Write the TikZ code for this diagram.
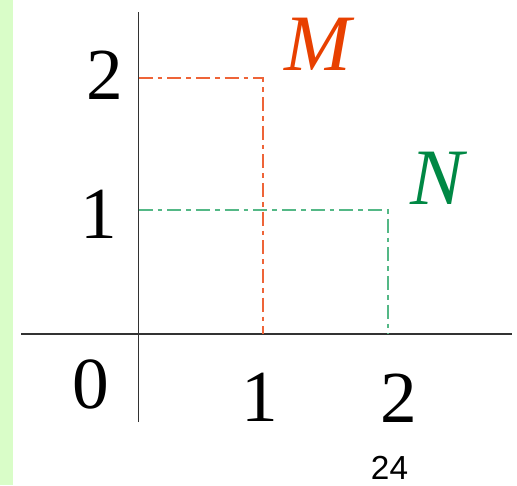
\documentclass[tikz,border=0pt]{standalone}
\usepackage{fontspec}
\setmainfont{Liberation Serif}
\newfontfamily\pagesans{Liberation Sans}
\usetikzlibrary{positioning}

\definecolor{stripgreen}{RGB}{217,253,200}
\definecolor{mtext}{RGB}{232,64,0}
\definecolor{mline}{RGB}{238,100,56}
\definecolor{ntext}{RGB}{0,136,68}
\definecolor{nline}{RGB}{84,184,134}
\definecolor{axisgray}{RGB}{50,50,50}

\tikzset{
  axis/.style={axisgray, line width=1.3pt},
  guide/.style={line width=1pt, dash pattern=on 10.5pt off 3.75pt on 3.5pt off 3.75pt},
  ticklabel/.style={inner sep=0pt, font=\fontsize{55}{60}\selectfont},
  setname/.style={inner sep=0pt, font=\fontsize{60}{66}\selectfont\itshape},
}

\begin{document}
\begin{tikzpicture}[x=0.75pt, y=-0.75pt]
  \useasboundingbox (0,0) rectangle (517,485);
  \fill[stripgreen] (0,0) rectangle (13,485);

  % axes
  \coordinate (yTop) at (138.5,12);
  \coordinate (yBot) at (138.5,422);
  \coordinate (xLeft) at (21,334);
  \coordinate (xRight) at (512,334);
  \draw[axis] (yBot) -- (yTop);
  \draw[axis] (xLeft) -- (xRight);

  % points M and N with their guides
  \coordinate (pM) at (263,78);
  \coordinate (pN) at (388,210);
  \coordinate (mLeft) at (138.5,78);
  \coordinate (mFoot) at (263,334);
  \coordinate (nLeft) at (138.5,210);
  \coordinate (nFoot) at (388,334);
  \draw[guide, mline] (mLeft) -- (pM) -- (mFoot);
  \draw[guide, nline] (nLeft) -- (pN) -- (nFoot);

  % tick labels
  \node[ticklabel] (y2) at (105,75) {2};
  \node[ticklabel] (y1) at (98.5,214.5) {1};
  \node[ticklabel] (o) at (90.5,384) {0};
  \node[ticklabel] (x1) at (259.5,397.5) {1};
  \node[ticklabel] (x2) at (398.5,398) {2};

  \node[setname, mtext] (lblM) at (318,44) {M};
  \node[setname, ntext] (lblN) at (437,178) {N};

  \node[inner sep=0pt, font=\pagesans\fontsize{25}{28}\selectfont] (page) at (389.5,468) {24};
\end{tikzpicture}
\end{document}
